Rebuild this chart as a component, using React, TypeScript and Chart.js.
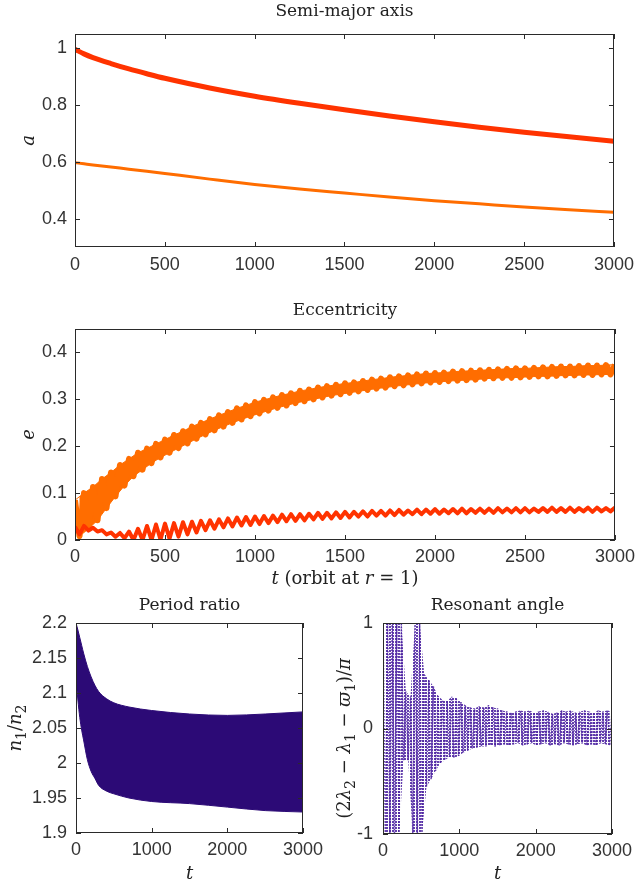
import React, { useEffect, useRef } from 'react';
import { Chart, registerables } from 'chart.js';
Chart.register(...registerables);

// ---------- data ----------
const xTicksWide = [0, 500, 1000, 1500, 2000, 2500, 3000];
const xTicksNarrow = [0, 1000, 2000, 3000];
const aTicks = [0.4, 0.6, 0.8, 1];
const eTicks = [0, 0.1, 0.2, 0.3, 0.4];
const prTicks = [1.9, 1.95, 2, 2.05, 2.1, 2.15, 2.2];
const resTicks = [-1, 0, 1];

// semi-major axis
const aT = [0, 50, 100, 200, 300, 400, 500, 750, 1000, 1250, 1500, 1750, 2000, 2250, 2500, 2750, 3000];
const aRed = [0.996, 0.98, 0.967, 0.946, 0.927, 0.91, 0.894, 0.86, 0.831, 0.806, 0.783, 0.761, 0.741, 0.722, 0.704, 0.688, 0.672];
const aOrange = [0.597, 0.593, 0.589, 0.582, 0.574, 0.567, 0.559, 0.539, 0.52, 0.504, 0.49, 0.476, 0.463, 0.452, 0.441, 0.431, 0.422];

// eccentricity: oscillation peaks (t = 0, 50, ... 3000) and troughs (t = 25, 75, ... 2975)
const E_STEP = 50;
const eOrangeHi = [0.085, 0.1, 0.113, 0.13, 0.144, 0.16, 0.173, 0.186, 0.195, 0.205, 0.214, 0.224, 0.232, 0.242, 0.25, 0.258, 0.266, 0.273, 0.281, 0.287, 0.294, 0.299, 0.304, 0.309, 0.313, 0.318, 0.321, 0.325, 0.328, 0.331, 0.334, 0.336, 0.339, 0.342, 0.344, 0.347, 0.349, 0.351, 0.353, 0.355, 0.356, 0.357, 0.359, 0.36, 0.361, 0.362, 0.363, 0.364, 0.365, 0.366, 0.366, 0.367, 0.368, 0.369, 0.37, 0.37, 0.371, 0.372, 0.372, 0.373, 0.374];
const eOrangeLo = [0.008, 0.024, 0.042, 0.068, 0.093, 0.116, 0.136, 0.15, 0.164, 0.176, 0.186, 0.196, 0.206, 0.216, 0.225, 0.234, 0.242, 0.25, 0.257, 0.264, 0.27, 0.276, 0.282, 0.287, 0.292, 0.296, 0.3, 0.304, 0.308, 0.311, 0.314, 0.317, 0.32, 0.323, 0.325, 0.328, 0.33, 0.332, 0.334, 0.336, 0.337, 0.339, 0.34, 0.341, 0.342, 0.344, 0.345, 0.346, 0.346, 0.347, 0.348, 0.349, 0.349, 0.35, 0.351, 0.351, 0.352, 0.352, 0.353, 0.353];
const eRedHi = [0.028, 0.03, 0.026, 0.021, 0.016, 0.015, 0.018, 0.024, 0.03, 0.033, 0.035, 0.036, 0.038, 0.039, 0.041, 0.042, 0.044, 0.046, 0.048, 0.049, 0.05, 0.051, 0.052, 0.054, 0.055, 0.055, 0.056, 0.058, 0.058, 0.059, 0.06, 0.06, 0.061, 0.062, 0.062, 0.063, 0.064, 0.063, 0.065, 0.065, 0.066, 0.065, 0.066, 0.067, 0.066, 0.067, 0.067, 0.068, 0.067, 0.068, 0.068, 0.067, 0.068, 0.069, 0.068, 0.069, 0.068, 0.069, 0.069, 0.068, 0.069];
const eRedLo = [0.012, 0.02, 0.018, 0.012, 0.007, 0.004, 0.0, 0.0, 0.0, 0.001, 0.003, 0.007, 0.012, 0.016, 0.021, 0.024, 0.027, 0.029, 0.031, 0.032, 0.034, 0.036, 0.038, 0.04, 0.041, 0.042, 0.044, 0.045, 0.046, 0.047, 0.048, 0.05, 0.05, 0.052, 0.052, 0.053, 0.054, 0.055, 0.055, 0.056, 0.056, 0.057, 0.057, 0.057, 0.058, 0.058, 0.058, 0.059, 0.059, 0.059, 0.059, 0.06, 0.06, 0.06, 0.06, 0.06, 0.061, 0.06, 0.061, 0.061];

// period ratio envelope
const prT = [0, 25, 50, 75, 100, 150, 200, 250, 300, 400, 500, 700, 1000, 1500, 2000, 2500, 3000];
const prHi = [2.2, 2.19, 2.179, 2.168, 2.157, 2.138, 2.123, 2.111, 2.102, 2.092, 2.086, 2.08, 2.075, 2.07, 2.068, 2.07, 2.073];
const prLo = [2.12, 2.09, 2.065, 2.047, 2.033, 2.005, 1.988, 1.978, 1.968, 1.96, 1.956, 1.95, 1.945, 1.942, 1.937, 1.932, 1.93];

// resonant angle: swings up (t = 0, 60, ...) and down (t = 30, 90, ...)
const R_STEP = 60;
const resHi = [1, 1, 1, 1, 1, 0.35, 0.3, 1, 1, 0.52, 0.46, 0.4, 0.31, 0.27, 0.26, 0.3, 0.29, 0.25, 0.22, 0.2, 0.19, 0.21, 0.2, 0.22, 0.2, 0.19, 0.17, 0.16, 0.15, 0.16, 0.17, 0.16, 0.17, 0.15, 0.16, 0.17, 0.16, 0.14, 0.15, 0.17, 0.16, 0.17, 0.15, 0.16, 0.17, 0.16, 0.15, 0.17, 0.16, 0.17, 0.16];
const resLo = [-1, -1, -1, -1, -0.3, -0.3, -1, -1, -1, -0.55, -0.48, -0.4, -0.33, -0.3, -0.27, -0.28, -0.26, -0.23, -0.21, -0.19, -0.18, -0.17, -0.17, -0.16, -0.17, -0.16, -0.15, -0.16, -0.15, -0.14, -0.16, -0.15, -0.14, -0.16, -0.15, -0.14, -0.16, -0.15, -0.16, -0.14, -0.15, -0.16, -0.15, -0.14, -0.16, -0.15, -0.16, -0.14, -0.15, -0.16];

// ---------- styling ----------
const SANS = '"Liberation Sans", Arial, sans-serif';
const SERIF = '"DejaVu Serif", serif';
const RED = '#ff3300';
const ORANGE = '#ff6d00';
const INDIGO = '#2c0a76';
const PURPLE = 'rgba(74, 32, 160, 0.85)';
const TICK_SIZE = 18;
const LABEL_SIZE = 18;

type Seg = { t: string; i?: boolean; sub?: boolean };

const pairs = (xs: number[], ys: number[]) => xs.map((x, k) => ({ x, y: ys[k] }));
const atStep = (step: number, offset: number, ys: number[]) => ys.map((y, k) => ({ x: k * step + offset, y }));
const zigzag = (step: number, hi: number[], lo: number[]) => {
  const pts: { x: number; y: number }[] = [];
  hi.forEach((v, k) => {
    pts.push({ x: k * step, y: v });
    if (k < lo.length) pts.push({ x: k * step + step / 2, y: lo[k] });
  });
  return pts;
};

function dotPattern(color: string) {
  const c = document.createElement('canvas');
  c.width = 3;
  c.height = 3;
  const g = c.getContext('2d') as CanvasRenderingContext2D;
  g.fillStyle = color;
  g.fillRect(0, 0, 2, 2);
  return g.createPattern(c, 'repeat');
}

function drawRich(ctx: CanvasRenderingContext2D, segs: Seg[], x: number, y: number, size: number, rotate: boolean) {
  ctx.save();
  ctx.translate(x, y);
  if (rotate) ctx.rotate(-Math.PI / 2);
  const fontFor = (s: Seg) => `${s.i ? 'italic ' : ''}${s.sub ? Math.round(size * 0.75) : size}px ${SERIF}`;
  let w = 0;
  for (const s of segs) {
    ctx.font = fontFor(s);
    w += ctx.measureText(s.t).width;
  }
  let cx = -w / 2;
  ctx.textAlign = 'left';
  ctx.textBaseline = 'alphabetic';
  ctx.fillStyle = '#222';
  const base = size * 0.35;
  for (const s of segs) {
    ctx.font = fontFor(s);
    ctx.fillText(s.t, cx, base + (s.sub ? size * 0.25 : 0));
    cx += ctx.measureText(s.t).width;
  }
  ctx.restore();
}

type Decor = { title: string; titleY: number; yTitle: Seg[]; yTitleX: number; yTitleShift?: number; xTitle?: Seg[]; xTitleY?: number };

function makeDecor(d: Decor) {
  return {
    id: 'decor',
    afterDatasetsDraw(chart: any) {
      const { ctx, chartArea: a } = chart;
      const xs = chart.scales.x;
      const ys = chart.scales.y;
      ctx.save();
      ctx.strokeStyle = '#2a2a2a';
      ctx.lineWidth = 1;
      ctx.beginPath();
      for (const t of xs.ticks) {
        const p = Math.round(xs.getPixelForValue(t.value)) + 0.5;
        ctx.moveTo(p, a.bottom);
        ctx.lineTo(p, a.bottom - 5);
        ctx.moveTo(p, a.top);
        ctx.lineTo(p, a.top + 5);
      }
      for (const t of ys.ticks) {
        const p = Math.round(ys.getPixelForValue(t.value)) + 0.5;
        ctx.moveTo(a.left, p);
        ctx.lineTo(a.left + 5, p);
        ctx.moveTo(a.right, p);
        ctx.lineTo(a.right - 5, p);
      }
      ctx.stroke();
      ctx.strokeRect(Math.round(a.left) + 0.5, Math.round(a.top) + 0.5, Math.round(a.right - a.left) - 1, Math.round(a.bottom - a.top) - 1);
      ctx.font = `17px ${SERIF}`;
      ctx.fillStyle = '#222';
      ctx.textAlign = 'center';
      ctx.textBaseline = 'middle';
      ctx.fillText(d.title, (a.left + a.right) / 2, d.titleY);
      ctx.restore();
      drawRich(ctx, d.yTitle, d.yTitleX, (a.top + a.bottom) / 2 + (d.yTitleShift || 0), LABEL_SIZE, true);
      if (d.xTitle && d.xTitleY !== undefined) drawRich(ctx, d.xTitle, (a.left + a.right) / 2, d.xTitleY, LABEL_SIZE, false);
    },
  };
}

type Box = { yWidth: number; xHeight: number; top: number; right: number; yPad: number; xPad: number };

function makeConfig(datasets: any[], xTicks: number[], yTicks: number[], yMin: number, yMax: number, box: Box, decor: Decor): any {
  const tickFont = { family: SANS, size: TICK_SIZE };
  return {
    type: 'line',
    data: { datasets },
    options: {
      responsive: false,
      animation: false,
      devicePixelRatio: 1,
      events: [],
      layout: { padding: { left: 0, right: box.right, top: box.top, bottom: 0 } },
      plugins: { legend: { display: false }, tooltip: { enabled: false }, title: { display: false } },
      elements: { point: { radius: 0 } },
      scales: {
        x: {
          type: 'linear',
          min: 0,
          max: 3000,
          afterBuildTicks: (s: any) => { s.ticks = xTicks.map((v) => ({ value: v })); },
          afterFit: (s: any) => { s.height = box.xHeight; },
          ticks: { font: tickFont, color: '#333', padding: box.xPad, maxRotation: 0, autoSkip: false, callback: (v: any) => String(v) },
          grid: { display: false, drawTicks: false },
          border: { display: false },
        },
        y: {
          type: 'linear',
          min: yMin,
          max: yMax,
          afterBuildTicks: (s: any) => { s.ticks = yTicks.map((v) => ({ value: v })); },
          afterFit: (s: any) => { s.width = box.yWidth; },
          ticks: { font: tickFont, color: '#333', padding: box.yPad, autoSkip: false, callback: (v: any) => String(v) },
          grid: { display: false, drawTicks: false },
          border: { display: false },
        },
      },
    },
    plugins: [makeDecor(decor)],
  };
}

function ChartCanvas({ left, top, width, height, build }: { left: number; top: number; width: number; height: number; build: () => any }) {
  const ref = useRef<HTMLCanvasElement>(null);
  useEffect(() => {
    const chart = new Chart(ref.current as HTMLCanvasElement, build());
    return () => chart.destroy();
  }, []);
  return <canvas ref={ref} width={width} height={height} style={{ position: 'absolute', left, top, width, height }} />;
}

const buildA = () =>
  makeConfig(
    [
      { data: pairs(aT, aRed), borderColor: RED, borderWidth: 5, cubicInterpolationMode: 'monotone', fill: false },
      { data: pairs(aT, aOrange), borderColor: ORANGE, borderWidth: 3, cubicInterpolationMode: 'monotone', fill: false },
    ],
    xTicksWide, aTicks, 0.3, 1.05,
    { yWidth: 75, xHeight: 43, top: 34, right: 21, yPad: 8, xPad: 7 },
    { title: 'Semi-major axis', titleY: 12, yTitle: [{ t: 'a', i: true }], yTitleX: 28 }
  );

const buildE = () =>
  makeConfig(
    [
      { data: zigzag(E_STEP, eRedHi, eRedLo), borderColor: RED, borderWidth: 4, borderJoinStyle: 'round', tension: 0, fill: false },
      { data: zigzag(E_STEP, eOrangeHi, eOrangeLo), borderColor: ORANGE, borderWidth: 6, borderJoinStyle: 'round', tension: 0, fill: false },
      { data: atStep(E_STEP, 0, eOrangeHi), borderColor: ORANGE, borderWidth: 1, tension: 0, fill: '+1', backgroundColor: ORANGE },
      { data: atStep(E_STEP, E_STEP / 2, eOrangeLo), borderColor: ORANGE, borderWidth: 1, tension: 0, fill: false },
    ],
    xTicksWide, eTicks, 0, 0.45,
    { yWidth: 75, xHeight: 50, top: 39, right: 21, yPad: 8, xPad: 6 },
    {
      title: 'Eccentricity', titleY: 21, yTitle: [{ t: 'e', i: true }], yTitleX: 28,
      xTitle: [{ t: 't', i: true }, { t: ' (orbit at ' }, { t: 'r', i: true }, { t: ' = 1)' }], xTitleY: 288,
    }
  );

const buildPR = () =>
  makeConfig(
    [
      { data: pairs(prT, prLo), borderColor: INDIGO, borderWidth: 1, cubicInterpolationMode: 'monotone', fill: false },
      { data: pairs(prT, prHi), borderColor: INDIGO, borderWidth: 1, cubicInterpolationMode: 'monotone', fill: '-1', backgroundColor: INDIGO },
    ],
    xTicksNarrow, prTicks, 1.9, 2.2,
    { yWidth: 76, xHeight: 50, top: 33, right: 27, yPad: 9, xPad: 6 },
    {
      title: 'Period ratio', titleY: 16,
      yTitle: [{ t: 'n', i: true }, { t: '1', sub: true }, { t: '/' }, { t: 'n', i: true }, { t: '2', sub: true }], yTitleX: 15,
      xTitle: [{ t: 't', i: true }], xTitleY: 283,
    }
  );

const buildRes = () =>
  makeConfig(
    [
      { data: zigzag(R_STEP, resHi, resLo), borderColor: PURPLE, borderWidth: 1.5, borderDash: [1.5, 1.5], tension: 0, fill: false },
      { data: atStep(R_STEP, 0, resHi), borderWidth: 0, borderColor: 'rgba(0,0,0,0)', tension: 0, fill: '+1', backgroundColor: dotPattern('rgba(74, 32, 160, 0.85)') },
      { data: atStep(R_STEP, R_STEP / 2, resLo), borderWidth: 0, borderColor: 'rgba(0,0,0,0)', tension: 0, fill: false },
    ],
    xTicksNarrow, resTicks, -1, 1,
    { yWidth: 63, xHeight: 49, top: 33, right: 29, yPad: 10, xPad: 6 },
    {
      title: 'Resonant angle', titleY: 16,
      yTitle: [
        { t: '(2' }, { t: 'λ', i: true }, { t: '2', sub: true }, { t: ' − ' }, { t: 'λ', i: true }, { t: '1', sub: true },
        { t: ' − ' }, { t: 'ϖ', i: true }, { t: '1', sub: true }, { t: ')/' }, { t: 'π', i: true },
      ],
      yTitleX: 24,
      yTitleShift: 10,
      xTitle: [{ t: 't', i: true }], xTitleY: 283,
    }
  );

export default function App() {
  return (
    <div style={{ position: 'absolute', left: 0, top: 0, width: 641, height: 883, background: '#fff' }}>
      <ChartCanvas left={0} top={0} width={641} height={290} build={buildA} />
      <ChartCanvas left={0} top={290} width={641} height={300} build={buildE} />
      <ChartCanvas left={0} top={590} width={330} height={293} build={buildPR} />
      <ChartCanvas left={320} top={590} width={321} height={293} build={buildRes} />
    </div>
  );
}
